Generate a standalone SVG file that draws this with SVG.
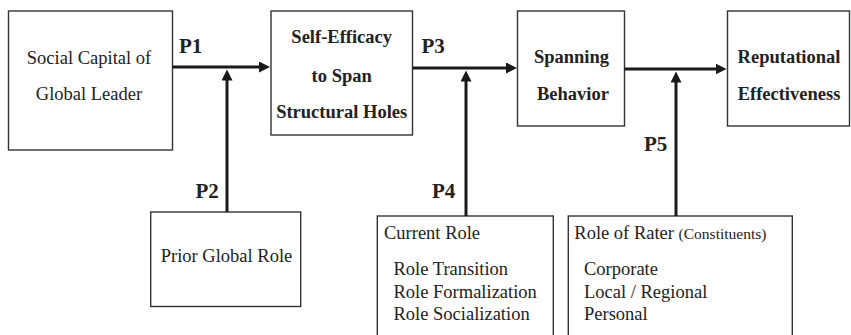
<svg xmlns="http://www.w3.org/2000/svg" width="851" height="335" viewBox="0 0 851 335">
  <style>
    .box { fill: #ffffff; stroke: #333333; stroke-width: 1.4; }
    .t { font-size: 18.5px; fill: #222222; }
    .b { font-weight: bold; }
    .mid { text-anchor: middle; }
    .small { font-size: 15.5px; }
    .lab { font-size: 21px; font-weight: bold; fill: #222222; }
    .conn { stroke: #1a1a1a; stroke-width: 3; fill: none; }
  </style>
  <defs>
    <marker id="arrow" markerUnits="userSpaceOnUse" markerWidth="12" markerHeight="12" refX="3" refY="5.5" orient="auto">
      <path d="M0,0 L11,5.5 L0,11 Z" fill="#1a1a1a"/>
    </marker>
  </defs>
  <rect width="851" height="335" fill="#ffffff"/>

  <g font-family="'Liberation Serif', 'DejaVu Serif', serif">
  <g id="social-capital">
    <rect class="box" x="8.5" y="11" width="164" height="139"/>
    <text class="t mid" x="89" y="64">Social Capital of</text>
    <text class="t mid" x="89" y="100">Global Leader</text>
  </g>

  <g id="self-efficacy">
    <rect class="box" x="271" y="11" width="141.5" height="124"/>
    <text class="t b mid" x="341.7" y="43">Self-Efficacy</text>
    <text class="t b mid" x="341.7" y="82">to Span</text>
    <text class="t b mid" x="341.7" y="118">Structural Holes</text>
  </g>

  <g id="spanning-behavior">
    <rect class="box" x="517.5" y="11" width="107" height="115"/>
    <text class="t b mid" x="571.5" y="63">Spanning</text>
    <text class="t b mid" x="573" y="100">Behavior</text>
  </g>

  <g id="reputational-effectiveness">
    <rect class="box" x="727.5" y="11" width="122" height="115"/>
    <text class="t b mid" x="789" y="63">Reputational</text>
    <text class="t b mid" x="789" y="100">Effectiveness</text>
  </g>

  <g id="prior-global-role">
    <rect class="box" x="150.7" y="212" width="150" height="94.5"/>
    <text class="t mid" x="226.5" y="261.5">Prior Global Role</text>
  </g>

  <g id="current-role">
    <rect class="box" x="377.3" y="216" width="176" height="130"/>
    <text class="t" x="384" y="239">Current Role</text>
    <text class="t" x="393.5" y="275">Role Transition</text>
    <text class="t" x="393.5" y="297.5">Role Formalization</text>
    <text class="t" x="393.5" y="319.5">Role Socialization</text>
  </g>

  <g id="role-of-rater">
    <rect class="box" x="568.3" y="216" width="224" height="130"/>
    <text class="t" x="574.3" y="239">Role of Rater <tspan class="small">(Constituents)</tspan></text>
    <text class="t" x="584" y="275">Corporate</text>
    <text class="t" x="584" y="297.5">Local / Regional</text>
    <text class="t" x="584" y="319.5">Personal</text>
  </g>

  <g id="connectors">
    <!-- main chain -->
    <line class="conn" x1="172.5" y1="67" x2="262" y2="67" marker-end="url(#arrow)"/>
    <line class="conn" x1="412.5" y1="68" x2="509" y2="68" marker-end="url(#arrow)"/>
    <line class="conn" x1="624.5" y1="69" x2="718.5" y2="69" marker-end="url(#arrow)"/>
    <!-- moderators -->
    <line class="conn" x1="227" y1="212" x2="227" y2="77.5" marker-end="url(#arrow)"/>
    <line class="conn" x1="466" y1="216" x2="466" y2="78.5" marker-end="url(#arrow)"/>
    <line class="conn" x1="676" y1="216" x2="676" y2="79.5" marker-end="url(#arrow)"/>
  </g>

  <g id="labels">
    <text class="lab" x="179" y="53.3">P1</text>
    <text class="lab" x="195.5" y="198">P2</text>
    <text class="lab" x="421.5" y="52.5">P3</text>
    <text class="lab" x="432" y="198">P4</text>
    <text class="lab" x="644" y="151">P5</text>
  </g>
  </g>
</svg>
